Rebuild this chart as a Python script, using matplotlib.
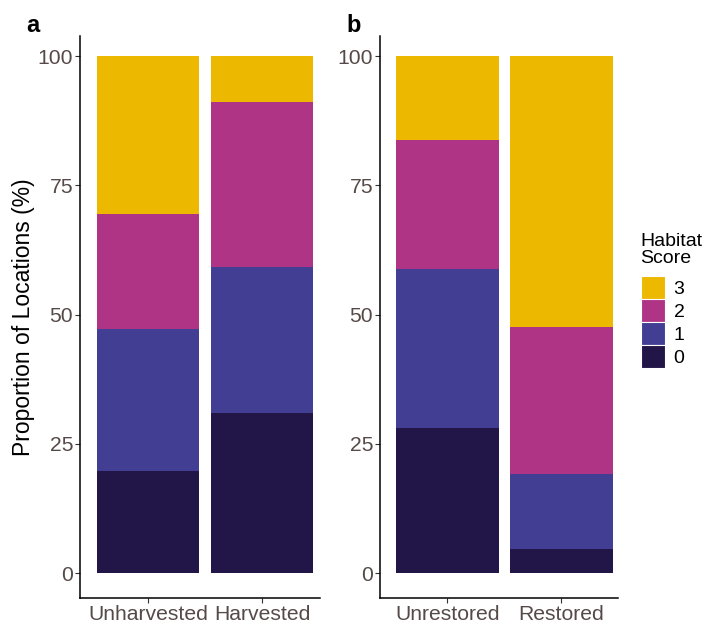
import matplotlib
matplotlib.use("Agg")
import matplotlib.pyplot as plt
from matplotlib.patches import Patch
import numpy as np

plt.rcParams['font.family'] = ['Liberation Sans', 'DejaVu Sans']

# Data (percent of locations by habitat score)
scores = ["0", "1", "2", "3"]
colors = ["#221548", "#413E93", "#B03485", "#EDB800"]

cats_a = ["Unharvested", "Harvested"]
a_score0 = [19.7, 30.9]
a_score1 = [27.5, 28.3]
a_score2 = [22.2, 31.9]
a_score3 = [30.6, 8.9]

cats_b = ["Unrestored", "Restored"]
b_score0 = [28.1, 4.7]
b_score1 = [30.8, 14.5]
b_score2 = [24.8, 28.5]
b_score3 = [16.3, 52.3]

yticks = [0, 25, 50, 75, 100]

fig = plt.figure(figsize=(7.19, 6.24), dpi=100)

def panel(rect, cats, series, xlim, ylabel=None):
    ax = fig.add_axes(rect)
    x = np.arange(1, len(cats) + 1)
    bottom = np.zeros(len(cats))
    for vals, c in zip(series, colors):
        ax.bar(x, vals, width=0.9, bottom=bottom, color=c, linewidth=0)
        bottom += np.array(vals)
    ax.set_xlim(*xlim)
    ax.set_ylim(-4.8, 103.9)
    ax.set_xticks(x)
    ax.set_xticklabels(cats)
    ax.set_yticks(yticks)
    ax.set_yticklabels([str(t) for t in yticks])
    for s in ["top", "right"]:
        ax.spines[s].set_visible(False)
    for s in ["left", "bottom"]:
        ax.spines[s].set_color("black")
        ax.spines[s].set_linewidth(1.1)
    ax.tick_params(axis="both", colors="#333333", length=3.5, width=0.8,
                   labelsize=15.2, labelcolor="#564a48", pad=1.5)
    if ylabel:
        ax.set_ylabel(ylabel, fontsize=16.5, color="black", labelpad=1.5)
    return ax

ax_a = panel([0.1113, 0.0417, 0.3338, 0.9006], cats_a,
             [a_score0, a_score1, a_score2, a_score3],
             (1 - 68 / 114, 2 + 58 / 114), ylabel="Proportion of Locations (%)")
ax_b = panel([0.5285, 0.0417, 0.331, 0.9006], cats_b,
             [b_score0, b_score1, b_score2, b_score3],
             (1 - 67.5 / 114, 2 + 56.5 / 114))

fig.text(26 / 719, 1 - 25 / 624, "a", fontsize=17, fontweight="bold", va="center", ha="left")
fig.text(346 / 719, 1 - 25 / 624, "b", fontsize=17, fontweight="bold", va="center", ha="left")

handles = [Patch(facecolor=c, edgecolor="white", linewidth=0.8) for c in colors[::-1]]
leg = fig.legend(handles, scores[::-1], title="Habitat\nScore",
                 loc="upper left", bbox_to_anchor=(627 / 719, 1 - 219 / 624),
                 frameon=False, fontsize=14, title_fontsize=14,
                 handlelength=1.25, handleheight=1.45, labelspacing=0.0,
                 handletextpad=0.45, borderpad=0.2)
leg._legend_box.align = "left"
leg._legend_box.sep = 6
leg.get_title().set_linespacing(1.05)

fig.savefig("out.png", dpi=100)
